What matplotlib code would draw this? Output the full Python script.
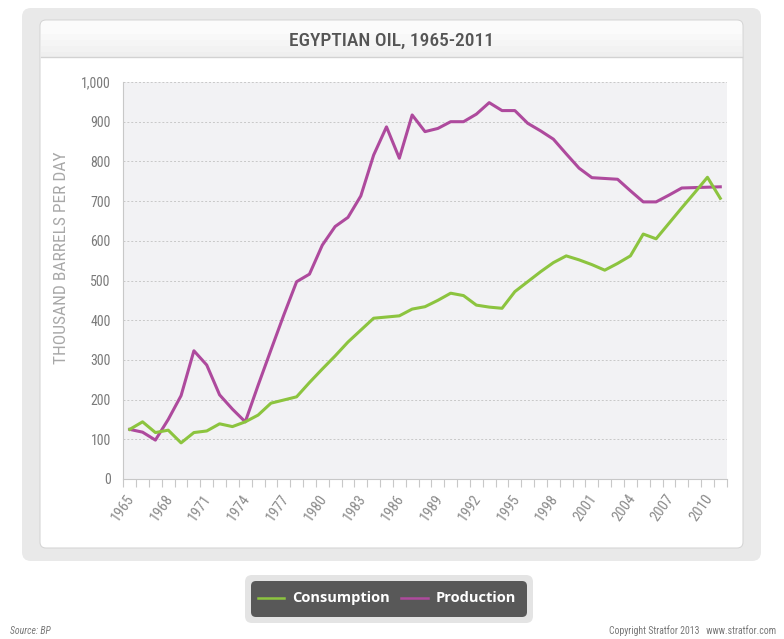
import matplotlib.pyplot as plt
from matplotlib.patches import FancyBboxPatch, Rectangle

# Egyptian oil, thousand barrels per day (BP)
years = list(range(1965, 2012))
consumption = [125, 144, 117, 123, 91, 117, 121, 139, 132, 144,
               161, 191, 199, 207, 243, 277, 310, 345, 375, 405,
               408, 411, 428, 434, 450, 468, 462, 438, 433, 430,
               472, 497, 522, 545, 562, 552, 540, 526, 543, 562,
               617, 605, 644, 683, 721, 760, 707]
production = [125, 118, 98, 150, 210, 323, 287, 212, 176, 144,
              236, 325, 413, 497, 516, 589, 636, 659, 713, 816,
              887, 808, 917, 875, 883, 900, 900, 919, 948, 928,
              928, 896, 877, 856, 819, 783, 759, 757, 755, 726,
              698, 698, 715, 733, 734, 735, 736]

x_ticks = list(range(1965, 2013))
x_labels = [str(y) if (y - 1965) % 3 == 0 else "" for y in x_ticks]
y_ticks = [0, 100, 200, 300, 400, 500, 600, 700, 800, 900, 1000]
y_labels = ["0", "100", "200", "300", "400", "500", "600", "700", "800", "900", "1,000"]

GREEN = "#8cc43f"
PURPLE = "#ae4a9d"
NARROW = ["Roboto Condensed", "Liberation Sans Narrow", "Roboto", "DejaVu Sans"]
plt.rcParams["font.family"] = NARROW

W, H = 784, 639
fig = plt.figure(figsize=(W / 100, H / 100), dpi=100, facecolor="white")

# background drawn in pixel coordinates
bg = fig.add_axes([0, 0, 1, 1], zorder=0)
bg.set_xlim(0, W)
bg.set_ylim(H, 0)
bg.axis("off")

def rbox(x0, y0, x1, y1, r, fc, ec="none", lw=0):
    bg.add_patch(FancyBboxPatch((x0 + r, y0 + r), x1 - x0 - 2 * r, y1 - y0 - 2 * r,
                                boxstyle=f"round,pad={r}", fc=fc, ec=ec, lw=lw))

rbox(22, 8, 761, 561, 9, "#e9e9e9")
rbox(40, 20, 743, 548, 6, "white", "#d6d6d6", 0.8)
# title bar, light gradient
shades = ["#fbfbfb", "#f8f8f8", "#f5f5f5", "#f2f2f2", "#efefef"]
rbox(41, 21, 742, 40, 5, shades[0])
for i, c in enumerate(shades):
    bg.add_patch(Rectangle((41, 28 + i * 6), 701, 6, fc=c, ec="none"))
bg.plot([41, 742], [57, 57], color="#d2d2d2", lw=1)
bg.text(392, 41, "EGYPTIAN OIL, 1965-2011", ha="center", va="center",
        fontsize=14, color="#555555", fontstretch="condensed", fontweight="medium")

bg.text(62, 258, "THOUSAND BARRELS PER DAY", rotation=90, ha="center", va="center",
        fontsize=12.5, color="#a8a8a8", fontstretch="condensed")

# legend
rbox(245, 575, 533, 623, 7, "#e4e4e4")
rbox(251, 581, 527, 617, 5, "#585858")
bg.plot([258, 284], [598, 598], color=GREEN, lw=1.8)
bg.text(292, 598, "Consumption", ha="left", va="center", fontsize=10.5,
        color="white", family="Open Sans", fontweight="bold")
bg.plot([401, 428], [598, 598], color=PURPLE, lw=1.8)
bg.text(436, 598, "Production", ha="left", va="center", fontsize=10.5,
        color="white", family="Open Sans", fontweight="bold")

bg.text(10, 631, "Source: BP", ha="left", va="center", fontsize=7,
        color="#777777", style="italic")
bg.text(776, 631, "Copyright Stratfor 2013   www.stratfor.com", ha="right", va="center",
        fontsize=7, color="#777777")

# main chart
ax = fig.add_axes([123.3 / W, 1 - 479 / H, (726.7 - 123.3) / W, (479 - 82) / H], zorder=2)
ax.set_facecolor("#f2f2f4")
xs = [y + 0.5 for y in years]
ax.plot(xs, production, color=PURPLE, lw=2.2, zorder=3)
ax.plot(xs, consumption, color=GREEN, lw=2.2, zorder=4)

ax.set_xlim(1965, 2012)
ax.set_ylim(0, 1000)
ax.set_xticks(x_ticks)
ax.set_xticklabels(x_labels, rotation=55, ha="center", fontsize=10.5,
                   color="#8a8a8a")
ax.set_yticks(y_ticks)
ax.set_yticklabels(y_labels, fontsize=10, color="#7a7a7a")
ax.tick_params(axis="x", length=6, color="#c8c8c8", pad=3)
ax.tick_params(axis="y", length=0, pad=9)
ax.grid(axis="y", color="#c8c8c8", lw=0.7, ls=(0, (2, 2)))
ax.set_axisbelow(True)
for s in ["top", "right"]:
    ax.spines[s].set_visible(False)
ax.spines["left"].set_color("#c8c8c8")
ax.spines["bottom"].set_color("#c8c8c8")

fig.savefig("out.png", dpi=100)
